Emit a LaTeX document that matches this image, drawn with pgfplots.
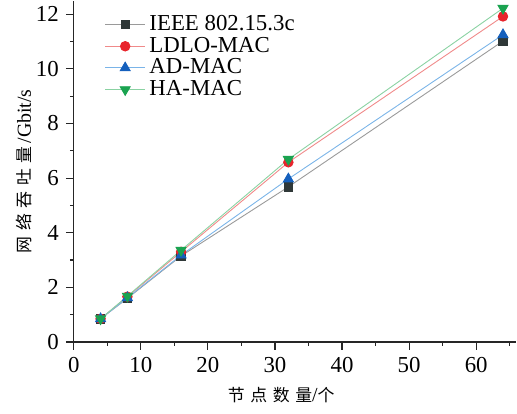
\documentclass[border=0pt]{standalone}
\usepackage{fontspec}
\setmainfont{Liberation Serif}
\newfontfamily\cjk{Noto Sans CJK SC}
\usepackage{pgfplots}
\pgfplotsset{compat=1.18}
\definecolor{ieeeM}{HTML}{2F3838}
\definecolor{ieeeL}{HTML}{9A9A9A}
\definecolor{ldloM}{HTML}{E8242C}
\definecolor{ldloL}{HTML}{F08A8A}
\definecolor{adM}{HTML}{1560BD}
\definecolor{adL}{HTML}{7AB4E8}
\definecolor{haM}{HTML}{1AA350}
\definecolor{haL}{HTML}{8AD2A2}
\begin{document}
\begin{tikzpicture}
\begin{axis}[
  scale only axis,
  width=223pt, height=172pt,
  xmin=0, xmax=66, ymin=0, ymax=12.5,
  axis x line*=bottom, axis y line*=left,
  axis line style={-, line width=0.6pt, black!85},
  tick align=outside,
  xtick={0,10,...,60}, ytick={0,2,...,12},
  minor xtick={5,15,...,65}, minor ytick={1,3,...,11},
  major tick length=4pt, minor tick length=2pt,
  tick style={line width=0.6pt, black!85},
  /pgf/number format/assume math mode=true,
  ticklabel style={font=\fontsize{11.5}{13}\selectfont},
  xlabel={{\cjk\fontsize{8.5}{10}\selectfont 节\,\,点\,\,数\,\,量}{\fontsize{10}{12}\selectfont/}{\cjk\fontsize{8.5}{10}\selectfont 个}},
  ylabel={{\cjk\fontsize{8.5}{10}\selectfont 网\,\,络\,\,吞\,\,吐\,\,量\,}{\fontsize{10}{12}\selectfont/Gbit/s}},
  xlabel style={yshift=-0.5pt, xshift=-7pt},
  ylabel style={yshift=-5pt},
  legend style={draw=none, fill=none, at={(0.065,0.975)}, anchor=north west,
    font=\fontsize{11.5}{12}\selectfont, row sep=-2.2pt, inner sep=1pt},
  legend cell align=left,
  legend image code/.code={\draw[#1, mark repeat=2, mark phase=2] plot coordinates {(0pt,0pt) (10pt,0pt) (20pt,0pt)};},
  every axis plot/.append style={line width=0.45pt},
]
\addplot[ieeeL, mark=square*, mark size=2.1pt, mark options={ieeeM, fill=ieeeM}] coordinates {
  (4,0.85) (8,1.60) (16,3.15) (32,5.68) (64,11.02)};
\addplot[ldloL, mark=*, mark size=2.4pt, mark options={ldloM, fill=ldloM}] coordinates {
  (4,0.85) (8,1.66) (16,3.30) (32,6.58) (64,11.92)};
\addplot[adL, mark=triangle*, mark size=2.9pt, mark options={adM, fill=adM}] coordinates {
  (4,0.85) (8,1.62) (16,3.18) (32,5.97) (64,11.25)};
\addplot[haL, mark=triangle*, mark size=2.9pt, mark options={haM, fill=haM, rotate=180}] coordinates {
  (4,0.85) (8,1.68) (16,3.36) (32,6.69) (64,12.22)};
\legend{IEEE 802.15.3c, LDLO-MAC, AD-MAC, HA-MAC}
\end{axis}
\path (current bounding box.south west) ++(-5pt,-2pt);
\end{tikzpicture}
\end{document}
